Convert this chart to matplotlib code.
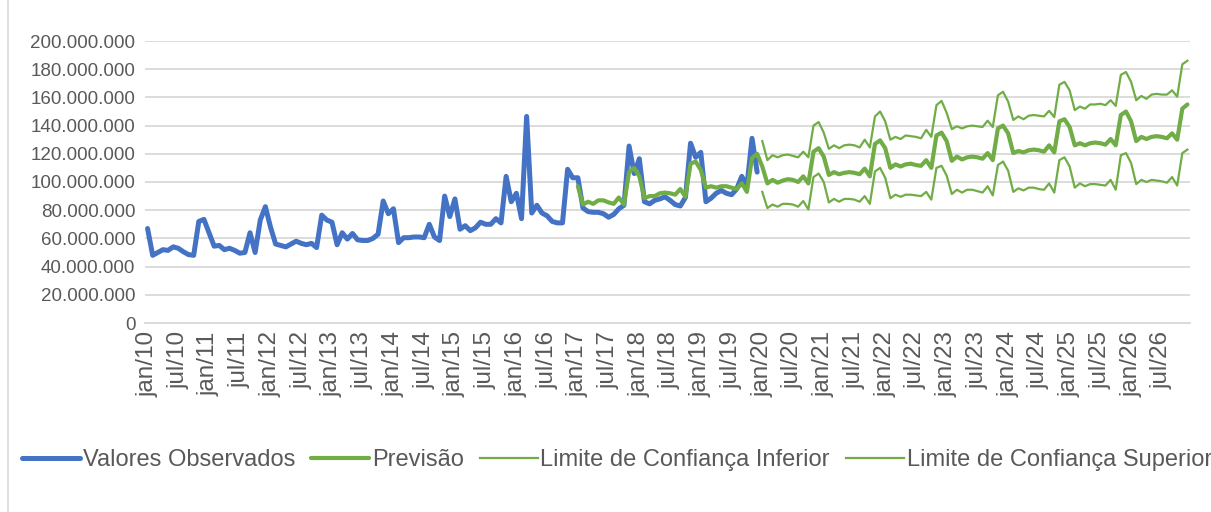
import numpy as np
import matplotlib.pyplot as plt
from matplotlib.patches import Rectangle
from matplotlib.ticker import FuncFormatter, MultipleLocator

plt.rcParams['font.family'] = ['Liberation Sans', 'DejaVu Sans']

# rótulos do eixo x (um a cada 6 meses, jan/10 até jul/26)
anos = list(range(10, 27))
rotulos_x = [f'{m}/{a:02d}' for a in anos for m in ('jan', 'jul')]

# valores em milhões, lidos do gráfico
# observados: jan/10 a dez/19
observados = [
    67, 48, 50, 52, 51.5, 54, 53, 50.5, 48.5, 48, 72, 73.5,
    64, 54.5, 55, 52, 53, 51.5, 49.5, 50, 64, 50, 73, 82.5,
    68, 56, 55, 54, 56, 58, 56.5, 55.5, 56.5, 53.5, 76.5, 73,
    71.5, 55.5, 64, 59.5, 63.5, 59, 58.5, 58.5, 60, 63, 86.5, 77.5,
    81, 57, 60.5, 60.5, 61, 61, 60.5, 70, 61, 58.5, 90, 75.5,
    88, 66.5, 69, 65.5, 67.5, 71.5, 70, 70, 74, 71, 104, 86,
    92, 74, 146.5, 78, 83.5, 78, 76, 72, 71, 71, 109, 103,
    103, 81.5, 79, 78.5, 78.5, 77.5, 75, 77, 81, 83.5, 125.5, 106,
    116.5, 86, 84.5, 87, 88, 89.5, 87, 84, 83, 89, 127.5, 117.5,
    121, 86, 88.5, 92, 94, 92, 91, 95, 104, 97, 131, 107,
]

# previsão: jan/17 a dez/26
previsao = [
    97, 84, 86, 84.5, 87, 87, 85.5, 84.5, 89, 84, 107, 110,
    104, 88.5, 90, 90, 92, 92.5, 92, 91, 95, 89.5, 113, 114.5,
    108.5, 96, 97, 96, 97, 97, 96, 95, 99, 93, 117, 120,
    111, 99, 101.5, 99.5, 101, 102, 101.5, 100, 104, 99, 121.5, 124,
    118, 105, 107, 105.5, 106.5, 107, 106.5, 105.5, 109.5, 104, 127, 129.5,
    124, 110, 112.5, 111, 112.5, 113, 112, 111.5, 115.5, 110, 133, 135,
    129, 115, 118, 116, 117.5, 118, 117.5, 116.5, 120.5, 115.5, 138, 140,
    134.5, 120.5, 122, 121, 122.5, 123, 122.5, 121.5, 126, 121, 143, 144.5,
    139, 126, 127.5, 126, 127.5, 128, 127.5, 126.5, 130.5, 126, 147.5, 150,
    143, 129, 132, 130.5, 132, 132.5, 132, 131, 134.5, 130, 152, 155,
]

# limites de confiança: jan/20 a dez/26
lim_inferior = [
    93, 81.5, 84, 82.5, 84.5, 84.5, 84, 82.5, 86.5, 80.5, 103.5, 106,
    100, 85.5, 88, 86, 88, 88, 87.5, 86, 90, 84.5, 107.5, 110,
    103, 88.5, 91, 89.5, 91, 91, 90.5, 90, 93, 87.5, 110, 111.5,
    104.5, 91.5, 94.5, 92.5, 94.5, 94.5, 93.5, 92.5, 97, 90.5, 112, 114.5,
    108, 93, 95.5, 94, 96, 96, 95, 94.5, 99, 92.5, 115.5, 117.5,
    111, 96, 99, 97, 98.5, 98.5, 98, 97.5, 101.5, 94.5, 119, 120.5,
    113.5, 98.5, 101.5, 100, 101.5, 101, 100.5, 99.5, 103.5, 97.5, 120.5, 123,
]
lim_superior = [
    129, 115.5, 119, 117.5, 119, 119.5, 118.5, 117.5, 121.5, 117.5, 140, 142.5,
    135, 123.5, 126, 124, 126, 126.5, 126, 124.5, 130, 124.5, 146.5, 150,
    143, 130, 132, 130.5, 133, 132.5, 132, 131, 137, 132, 154.5, 157.5,
    149, 137.5, 139.5, 138, 139.5, 140, 139.5, 139, 143.5, 139, 161.5, 164,
    157, 144, 146.5, 144.5, 147, 147.5, 147, 146.5, 150.5, 146, 169, 171,
    165, 151, 153.5, 152, 155, 155, 155.5, 154.5, 158, 154, 176, 178,
    171, 158, 161, 159, 162, 162.5, 162, 162, 165, 160.5, 183.5, 186,
]

n_meses = len(anos) * 12
meses = np.arange(n_meses)
ini_prev = 84   # jan/17
ini_lim = 120   # jan/20

azul = '#4472C4'
verde = '#70AD47'
cinza = '#595959'

fig = plt.figure(figsize=(12.11, 5.12), dpi=100)
ax = fig.add_axes([145 / 1211, 1 - 323 / 512, (1190 - 145) / 1211, (323 - 41) / 512])

ax.plot(meses[:len(observados)], np.array(observados) * 1e6, color=azul, lw=3.6,
        solid_joinstyle='round', solid_capstyle='round', label='Valores Observados')
ax.plot(meses[ini_prev:ini_prev + len(previsao)], np.array(previsao) * 1e6, color=verde, lw=3.0,
        solid_joinstyle='round', solid_capstyle='round', label='Previsão')
ax.plot(meses[ini_lim:ini_lim + len(lim_inferior)], np.array(lim_inferior) * 1e6, color=verde, lw=1.6,
        solid_joinstyle='round', label='Limite de Confiança Inferior')
ax.plot(meses[ini_lim:ini_lim + len(lim_superior)], np.array(lim_superior) * 1e6, color=verde, lw=1.6,
        solid_joinstyle='round', label='Limite de Confiança Superior')

# eixos
ax.set_xlim(-0.5, n_meses - 0.5)
ax.set_ylim(0, 200e6)
ax.yaxis.set_major_locator(MultipleLocator(20e6))
ax.yaxis.set_major_formatter(FuncFormatter(lambda v, p: f'{int(v):,}'.replace(',', '.')))
ax.set_xticks(meses[::6])
ax.set_xticklabels(rotulos_x, rotation=90)

ax.yaxis.grid(True, color='#D9D9D9', lw=1.3)
ax.set_axisbelow(True)
for s in ['top', 'right', 'left']:
    ax.spines[s].set_visible(False)
ax.spines['bottom'].set_color('#D9D9D9')
ax.spines['bottom'].set_linewidth(1.3)
ax.tick_params(axis='y', length=0, labelsize=13.5, labelcolor=cinza, pad=7)
ax.tick_params(axis='x', length=0, labelsize=17.5, labelcolor=cinza, pad=6)

# legenda em baixo
fig.legend(loc='center left', bbox_to_anchor=(22 / 1211, 1 - 460 / 512), ncol=4,
           frameon=False, fontsize=17, labelcolor=cinza, handlelength=2.45,
           handletextpad=0.12, columnspacing=0.68, borderpad=0, borderaxespad=0)

# borda da área do gráfico
fig.patches.append(Rectangle((8 / 1211, -0.1), 2, 1.2, transform=fig.transFigure,
                             fill=False, edgecolor='#D9D9D9', lw=1.2))

fig.savefig('out.png', dpi=100)
